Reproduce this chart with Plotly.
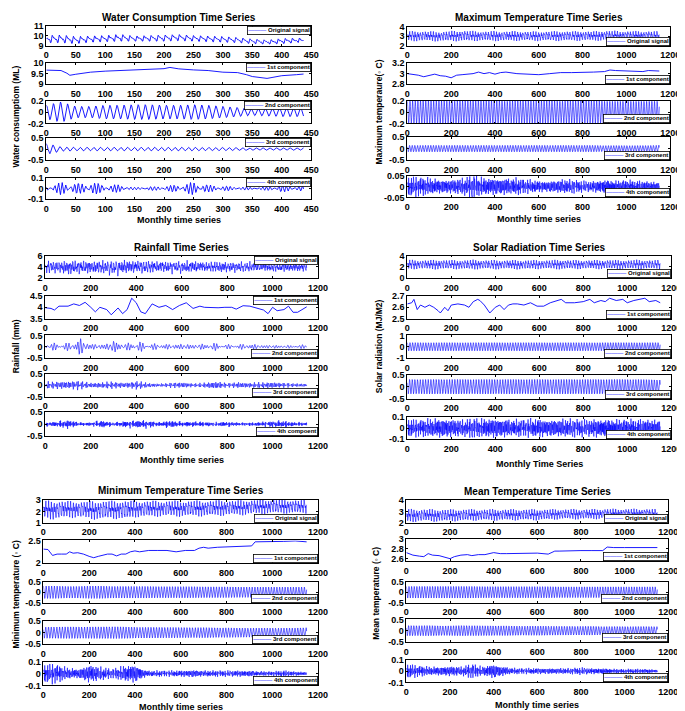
import numpy as np
import plotly.graph_objects as go

FIG_W, FIG_H = 685, 711
BLUE = "#0000ff"
FONT = "Liberation Sans, Arial, sans-serif"

# ------------------------------------------------------------------
# Values
# ------------------------------------------------------------------
# Water consumption: 438 monthly values (0..437)
water_n = 438
water_env_t = [0, 25, 50, 75, 100, 125, 150, 175, 200, 225, 250, 275, 300, 325, 350, 375, 400, 425]
water_orig_hi = [10.0, 10.05, 9.9, 9.95, 10.0, 10.12, 9.95, 10.0, 10.05, 10.1, 10.0, 9.95, 9.9, 9.8, 9.65, 9.55, 9.7, 9.75]
water_orig_lo = [9.3, 9.3, 9.2, 9.35, 9.4, 9.45, 9.45, 9.45, 9.45, 9.5, 9.45, 9.4, 9.35, 9.3, 9.2, 9.15, 9.2, 9.3]
water_trend_t = [0, 25, 35, 40, 50, 75, 100, 125, 150, 175, 200, 210, 225, 250, 275, 300, 325, 340, 350, 375, 400, 425, 437]
water_trend_v = [9.67, 9.65, 9.52, 9.42, 9.47, 9.57, 9.62, 9.65, 9.67, 9.7, 9.74, 9.8, 9.73, 9.68, 9.65, 9.57, 9.55, 9.45, 9.36, 9.27, 9.4, 9.45, 9.48]
water_c2_amp = [0.12, 0.18, 0.1, 0.1, 0.12, 0.12, 0.13, 0.13, 0.12, 0.12, 0.13, 0.12, 0.1, 0.08, 0.06, 0.07, 0.08, 0.08]
water_c3_amp = [0.25, 0.1, 0.08, 0.08, 0.08, 0.08, 0.08, 0.08, 0.08, 0.08, 0.08, 0.07, 0.07, 0.06, 0.05, 0.05, 0.05, 0.05]
water_c4_amp = [0.02, 0.05, 0.04, 0.05, 0.03, 0.03, 0.01, 0.015, 0.02, 0.03, 0.05, 0.03, 0.02, 0.015, 0.01, 0.015, 0.03, 0.02]

# Other variables: 1151 monthly values (0..1150), envelopes read every 50 months
long_n = 1151
long_env_t = [0, 50, 100, 150, 200, 250, 300, 350, 400, 450, 500, 550, 600, 650, 700, 750, 800, 850, 900, 950, 1000, 1050, 1100, 1150]

# Maximum temperature
max_orig_hi = [3.42, 3.45, 3.42, 3.4, 3.45, 3.5, 3.45, 3.42, 3.45, 3.42, 3.45, 3.4, 3.42, 3.42, 3.45, 3.42, 3.45, 3.42, 3.5, 3.48, 3.45, 3.45, 3.45, 3.42]
max_orig_lo = [2.62, 2.58, 2.6, 2.55, 2.6, 2.58, 2.6, 2.62, 2.6, 2.6, 2.62, 2.62, 2.6, 2.62, 2.6, 2.62, 2.62, 2.62, 2.65, 2.65, 2.68, 2.65, 2.65, 2.65]
max_trend_t = [0, 50, 75, 100, 125, 150, 175, 200, 225, 250, 275, 300, 325, 350, 375, 400, 425, 450, 500, 550, 600, 650, 700, 750, 800, 850, 900, 925, 950, 1000, 1050, 1075, 1100, 1150]
max_trend_v = [3.0, 2.97, 2.94, 2.96, 2.99, 2.96, 2.95, 2.92, 2.97, 2.98, 2.99, 3.0, 3.03, 3.0, 3.02, 2.99, 3.02, 3.03, 3.0, 2.99, 2.98, 3.0, 3.02, 3.02, 3.02, 3.03, 3.04, 3.07, 3.06, 3.05, 3.05, 3.04, 3.06, 3.05]
max_c2_amp = [0.19, 0.2, 0.2, 0.2, 0.19, 0.2, 0.2, 0.2, 0.2, 0.19, 0.2, 0.2, 0.2, 0.2, 0.19, 0.2, 0.2, 0.2, 0.19, 0.19, 0.19, 0.19, 0.19, 0.19]
max_c3_amp = [0.14, 0.14, 0.14, 0.14, 0.14, 0.14, 0.14, 0.14, 0.14, 0.14, 0.14, 0.14, 0.14, 0.14, 0.14, 0.14, 0.14, 0.14, 0.13, 0.13, 0.13, 0.13, 0.13, 0.15]
max_c4_amp = [0.035, 0.035, 0.03, 0.025, 0.025, 0.03, 0.04, 0.03, 0.03, 0.03, 0.03, 0.025, 0.02, 0.02, 0.025, 0.025, 0.02, 0.02, 0.025, 0.02, 0.025, 0.02, 0.02, 0.015]

# Rainfall
rain_orig_hi = [4.7, 4.8, 4.9, 4.8, 4.7, 4.8, 4.7, 5.0, 4.8, 4.7, 4.8, 4.7, 4.7, 4.8, 4.6, 4.7, 4.7, 4.6, 4.6, 4.6, 4.5, 4.6, 4.5, 4.5]
rain_orig_lo = [3.2, 3.3, 3.0, 3.2, 3.1, 3.2, 3.0, 3.2, 3.3, 3.1, 3.4, 3.3, 3.3, 3.3, 3.4, 3.3, 3.3, 3.4, 3.4, 3.4, 3.3, 3.4, 3.4, 3.4]
rain_trend_t = [0, 25, 40, 60, 100, 125, 150, 175, 200, 220, 240, 270, 290, 320, 340, 360, 380, 400, 420, 440, 470, 500, 530, 560, 590, 620, 650, 680, 700, 730, 760, 790, 820, 840, 870, 900, 930, 960, 980, 1000, 1020, 1050, 1070, 1090, 1110, 1130, 1150]
rain_trend_v = [3.98, 3.95, 3.88, 4.05, 4.05, 4.15, 4.08, 4.22, 4.0, 3.8, 4.0, 3.9, 3.67, 3.97, 3.72, 3.9, 4.4, 4.2, 3.8, 3.72, 4.15, 4.0, 4.08, 3.9, 4.08, 4.2, 3.95, 4.05, 4.0, 3.98, 3.98, 4.0, 4.0, 3.92, 4.07, 4.05, 3.95, 3.88, 3.72, 4.0, 3.85, 3.9, 4.05, 3.78, 3.78, 3.9, 4.02]
rain_c2_amp = [0.1, 0.12, 0.12, 0.27, 0.1, 0.08, 0.2, 0.1, 0.18, 0.1, 0.1, 0.08, 0.1, 0.08, 0.1, 0.12, 0.07, 0.08, 0.1, 0.06, 0.06, 0.05, 0.05, 0.07]
rain_c3_amp = [0.12, 0.12, 0.13, 0.15, 0.08, 0.1, 0.12, 0.08, 0.14, 0.08, 0.05, 0.08, 0.1, 0.06, 0.08, 0.13, 0.07, 0.1, 0.08, 0.1, 0.1, 0.08, 0.06, 0.05]
rain_c4_amp = [0.06, 0.08, 0.14, 0.05, 0.06, 0.12, 0.05, 0.1, 0.12, 0.12, 0.06, 0.12, 0.07, 0.08, 0.07, 0.06, 0.08, 0.05, 0.05, 0.07, 0.1, 0.1, 0.06, 0.05]

# Solar radiation
solar_orig_hi = [3.1, 3.05, 3.05, 3.1, 3.05, 3.05, 3.1, 3.05, 3.05, 3.05, 3.05, 3.05, 3.05, 3.05, 3.1, 3.05, 3.05, 3.05, 3.1, 3.05, 3.05, 3.1, 3.05, 3.05]
solar_orig_lo = [1.75, 1.8, 1.75, 1.75, 1.8, 1.75, 1.75, 1.8, 1.75, 1.8, 1.75, 1.75, 1.8, 1.8, 1.75, 1.8, 1.8, 1.8, 1.8, 1.8, 1.8, 1.8, 1.8, 1.8]
solar_trend_t = [0, 20, 30, 45, 60, 80, 100, 120, 140, 150, 170, 185, 200, 230, 260, 280, 300, 320, 330, 350, 375, 390, 400, 420, 440, 460, 480, 500, 530, 560, 590, 620, 650, 700, 720, 760, 800, 830, 850, 880, 900, 920, 950, 980, 1000, 1030, 1060, 1080, 1100, 1130, 1150]
solar_trend_v = [2.63, 2.64, 2.67, 2.58, 2.62, 2.6, 2.62, 2.6, 2.57, 2.55, 2.6, 2.57, 2.62, 2.63, 2.62, 2.6, 2.65, 2.67, 2.66, 2.62, 2.55, 2.58, 2.6, 2.62, 2.58, 2.62, 2.63, 2.63, 2.62, 2.64, 2.61, 2.61, 2.64, 2.67, 2.64, 2.64, 2.65, 2.67, 2.64, 2.66, 2.65, 2.68, 2.66, 2.67, 2.64, 2.66, 2.67, 2.68, 2.65, 2.66, 2.64]
solar_c2_amp = [0.36, 0.36, 0.35, 0.36, 0.36, 0.35, 0.36, 0.36, 0.36, 0.35, 0.36, 0.36, 0.36, 0.35, 0.36, 0.36, 0.36, 0.35, 0.36, 0.36, 0.36, 0.35, 0.36, 0.36]
solar_c3_amp = [0.3, 0.3, 0.3, 0.3, 0.3, 0.3, 0.3, 0.3, 0.3, 0.3, 0.3, 0.3, 0.3, 0.3, 0.3, 0.3, 0.3, 0.3, 0.3, 0.3, 0.3, 0.3, 0.29, 0.28]
solar_c4_amp = [0.065, 0.06, 0.065, 0.07, 0.065, 0.06, 0.07, 0.065, 0.07, 0.065, 0.06, 0.065, 0.065, 0.06, 0.065, 0.065, 0.06, 0.065, 0.065, 0.06, 0.065, 0.06, 0.065, 0.06]

# Minimum temperature
min_orig_hi = [2.8, 2.78, 2.78, 2.75, 2.75, 2.78, 2.78, 2.8, 2.8, 2.8, 2.8, 2.82, 2.8, 2.82, 2.82, 2.85, 2.85, 2.85, 2.9, 2.92, 2.95, 2.92, 2.9, 2.88]
min_orig_lo = [1.6, 1.45, 1.6, 1.6, 1.5, 1.45, 1.55, 1.45, 1.65, 1.65, 1.7, 1.7, 1.7, 1.72, 1.72, 1.75, 1.78, 1.8, 1.85, 1.9, 1.95, 1.95, 1.95, 1.95]
min_trend_t = [0, 20, 40, 60, 80, 100, 115, 130, 150, 175, 200, 220, 240, 260, 280, 300, 320, 340, 360, 380, 400, 420, 440, 460, 500, 540, 580, 620, 660, 680, 700, 720, 760, 800, 840, 880, 910, 925, 950, 1000, 1050, 1100, 1150]
min_trend_v = [2.31, 2.3, 2.17, 2.2, 2.2, 2.2, 2.25, 2.22, 2.23, 2.2, 2.15, 2.12, 2.15, 2.18, 2.2, 2.2, 2.16, 2.2, 2.2, 2.25, 2.27, 2.25, 2.27, 2.28, 2.28, 2.28, 2.25, 2.28, 2.28, 2.33, 2.35, 2.33, 2.35, 2.36, 2.37, 2.38, 2.38, 2.47, 2.47, 2.47, 2.48, 2.49, 2.47]
min_c2_amp = [0.3, 0.3, 0.28, 0.28, 0.3, 0.3, 0.28, 0.28, 0.28, 0.28, 0.27, 0.27, 0.27, 0.27, 0.26, 0.26, 0.26, 0.25, 0.25, 0.25, 0.25, 0.25, 0.25, 0.25]
min_c3_amp = [0.24, 0.25, 0.25, 0.25, 0.25, 0.25, 0.26, 0.25, 0.24, 0.23, 0.23, 0.23, 0.22, 0.22, 0.22, 0.21, 0.21, 0.2, 0.2, 0.2, 0.2, 0.2, 0.2, 0.22]
min_c4_amp = [0.06, 0.065, 0.04, 0.03, 0.06, 0.045, 0.03, 0.05, 0.06, 0.02, 0.02, 0.02, 0.02, 0.025, 0.02, 0.02, 0.02, 0.02, 0.02, 0.015, 0.015, 0.02, 0.015, 0.01]

# Mean temperature
mean_orig_hi = [3.1, 3.1, 3.1, 3.08, 3.08, 3.1, 3.1, 3.1, 3.1, 3.1, 3.1, 3.1, 3.1, 3.1, 3.12, 3.12, 3.12, 3.12, 3.15, 3.15, 3.15, 3.15, 3.15, 3.12]
mean_orig_lo = [2.2, 2.2, 2.25, 2.2, 2.25, 2.25, 2.3, 2.3, 2.3, 2.3, 2.32, 2.32, 2.32, 2.35, 2.4, 2.4, 2.4, 2.4, 2.45, 2.48, 2.48, 2.48, 2.48, 2.48]
mean_trend_t = [0, 30, 60, 80, 100, 120, 150, 180, 200, 220, 250, 280, 300, 330, 360, 400, 430, 460, 500, 550, 600, 650, 680, 700, 750, 800, 850, 900, 920, 950, 1000, 1050, 1100, 1150]
mean_trend_v = [2.72, 2.67, 2.65, 2.64, 2.7, 2.67, 2.66, 2.63, 2.6, 2.64, 2.67, 2.68, 2.66, 2.68, 2.68, 2.72, 2.7, 2.7, 2.7, 2.7, 2.71, 2.69, 2.75, 2.75, 2.76, 2.76, 2.76, 2.76, 2.83, 2.82, 2.82, 2.82, 2.83, 2.82]
mean_c2_amp = [0.28, 0.28, 0.28, 0.28, 0.28, 0.28, 0.28, 0.27, 0.27, 0.27, 0.27, 0.27, 0.27, 0.27, 0.26, 0.26, 0.26, 0.26, 0.26, 0.26, 0.26, 0.26, 0.26, 0.26]
mean_c3_amp = [0.22, 0.22, 0.22, 0.21, 0.21, 0.22, 0.22, 0.21, 0.21, 0.21, 0.2, 0.2, 0.2, 0.2, 0.19, 0.19, 0.19, 0.19, 0.18, 0.18, 0.18, 0.18, 0.18, 0.18]
mean_c4_amp = [0.05, 0.04, 0.03, 0.03, 0.035, 0.03, 0.05, 0.03, 0.05, 0.03, 0.02, 0.02, 0.02, 0.02, 0.02, 0.02, 0.025, 0.02, 0.02, 0.015, 0.015, 0.015, 0.015, 0.01]

legend_labels = ["Original signal", "1st component", "2nd component", "3rd component", "4th component"]
rain_legend_labels = ["Original signal", "1st component", "2nd component", "3rd component", "4th compoent"]

# ------------------------------------------------------------------
# Helpers: monthly oscillation shaped by the envelopes read above
# ------------------------------------------------------------------
def wave(t, periods, phase=0.0):
    s = sum(np.cos(2 * np.pi * t / p + phase + 1.7 * k) * (1.0 / (1 + 0.3 * k))
            for k, p in enumerate(periods))
    return s / np.percentile(np.abs(s), 88)


def band(t, env_t, hi, lo, periods):
    h = np.interp(t, env_t, hi)
    l = np.interp(t, env_t, lo)
    return (h + l) / 2 + (h - l) / 2 * wave(t, periods)


def comp(t, env_t, amp, periods, phase=0.0):
    return np.interp(t, env_t, amp) * wave(t, periods, phase)


tw = np.arange(water_n)
tl = np.arange(long_n)

series = {
    "water": [
        (tw, band(tw, water_env_t, water_orig_hi, water_orig_lo, [12, 6, 4])),
        (water_trend_t, water_trend_v),
        (tw, comp(tw, water_env_t, water_c2_amp, [12])),
        (tw, comp(tw, water_env_t, water_c3_amp, [11.5])),
        (tw, comp(tw, water_env_t, water_c4_amp, [6.8, 5.6])),
    ],
    "max": [
        (tl, band(tl, long_env_t, max_orig_hi, max_orig_lo, [12, 6, 3.1])),
        (max_trend_t, max_trend_v),
        (tl, comp(tl, long_env_t, max_c2_amp, [12])),
        (tl, comp(tl, long_env_t, max_c3_amp, [12.1], 1.0)),
        (tl, comp(tl, long_env_t, max_c4_amp, [3.1, 2.4, 4.3, 5.7])),
    ],
    "rain": [
        (tl, band(tl, long_env_t, rain_orig_hi, rain_orig_lo, [12, 5.3, 3.1, 2.3, 7.7])),
        (rain_trend_t, rain_trend_v),
        (tl, comp(tl, long_env_t, rain_c2_amp, [13, 10.5, 16.3])),
        (tl, comp(tl, long_env_t, rain_c3_amp, [6.3, 4.7, 8.9])),
        (tl, comp(tl, long_env_t, rain_c4_amp, [3.2, 2.5, 4.1, 2.9])),
    ],
    "solar": [
        (tl, band(tl, long_env_t, solar_orig_hi, solar_orig_lo, [12, 6, 3.1])),
        (solar_trend_t, solar_trend_v),
        (tl, comp(tl, long_env_t, solar_c2_amp, [12])),
        (tl, comp(tl, long_env_t, solar_c3_amp, [12.1], 1.0)),
        (tl, comp(tl, long_env_t, solar_c4_amp, [3.1, 2.4, 4.3, 5.7])),
    ],
    "min": [
        (tl, band(tl, long_env_t, min_orig_hi, min_orig_lo, [12, 6, 3.1])),
        (min_trend_t, min_trend_v),
        (tl, comp(tl, long_env_t, min_c2_amp, [12])),
        (tl, comp(tl, long_env_t, min_c3_amp, [12.1], 1.0)),
        (tl, comp(tl, long_env_t, min_c4_amp, [3.1, 2.4, 4.3, 5.7])),
    ],
    "mean": [
        (tl, band(tl, long_env_t, mean_orig_hi, mean_orig_lo, [12, 6, 3.1])),
        (mean_trend_t, mean_trend_v),
        (tl, comp(tl, long_env_t, mean_c2_amp, [12])),
        (tl, comp(tl, long_env_t, mean_c3_amp, [12.1], 1.0)),
        (tl, comp(tl, long_env_t, mean_c4_amp, [3.1, 2.4, 4.3, 5.7])),
    ],
}

# ------------------------------------------------------------------
# Layout (pixel boxes)
# ------------------------------------------------------------------
sym = lambda a: ((-a, a), [-a, 0, a])
panels = [
    dict(key="water", title="Water Consumption Time Series", ty=5,
         ylab="Water consumptiom (ML)", ylx=5, yly=105,
         xlab="Monthly time series", xly=210,
         x0=36, x1=306, rows=[(13, 33), (51, 72), (89, 112), (127, 149), (167, 189)],
         xr=(0, 450), xt=list(range(0, 451, 50)),
         yax=[((9, 11), [9, 10, 11]), ((9, 10), [9, 9.5, 10]), sym(0.2), sym(0.5), sym(0.1)],
         leg=["top"] * 5, labels=legend_labels),
    dict(key="max", title="Maximum Temperature Time Series", ty=5,
         ylab="Maximum temperaure(\u25e6 C)", ylx=375, yly=100,
         xlab="Monthly time series", xly=209,
         x0=404, x1=672, rows=[(14, 33), (51, 72), (89, 112), (126, 149), (165, 187)],
         xr=(0, 1200), xt=list(range(0, 1201, 200)),
         yax=[((2, 4), [2, 3, 4]), ((2.8, 3.2), [2.8, 3, 3.2]), sym(0.2), sym(0.5), sym(0.05)],
         leg=["bottom"] * 5, labels=legend_labels),
    dict(key="rain", title="Rainfall Time Series", ty=238,
         ylab="Rainfall (mm)", ylx=5, yly=338,
         xlab="Monthly time series", xly=453,
         x0=35, x1=313, rows=[(246, 269), (287, 310), (327, 350), (366, 389), (405, 429)],
         xr=(0, 1200), xt=list(range(0, 1201, 200)),
         yax=[((2, 6), [2, 4, 6]), ((3.5, 4.5), [3.5, 4, 4.5]), sym(0.5), sym(0.5), sym(0.5)],
         leg=["top", "top", "bottom", "bottom", "bottom"], labels=rain_legend_labels),
    dict(key="solar", title="Solar Radiation Time Series", ty=238,
         ylab="Solar radiation (MJ/M2)", ylx=375, yly=338,
         xlab="Monthly Time Series", xly=457,
         x0=404, x1=673, rows=[(246, 269), (287, 310), (327, 350), (367, 391), (410, 432)],
         xr=(0, 1200), xt=list(range(0, 1201, 200)),
         yax=[((0, 4), [0, 2, 4]), ((2.5, 2.7), [2.5, 2.6, 2.7]), sym(1), sym(0.5), sym(0.1)],
         leg=["bottom"] * 5, labels=legend_labels),
    dict(key="min", title="Minimum Temperature Time Series", ty=484,
         ylab="Minimum temperature (\u25e6 C)", ylx=5, yly=590,
         xlab="Monthly time series", xly=704,
         x0=33, x1=313, rows=[(494, 517), (535, 558), (577, 598), (617, 640), (658, 682)],
         xr=(0, 1200), xt=list(range(0, 1201, 200)),
         yax=[((1, 3), [1, 2, 3]), ((2, 2.5), [2, 2.5]), sym(0.5), sym(0.5), sym(0.1)],
         leg=["bottom"] * 5, labels=legend_labels),
    dict(key="mean", title="Mean Temperature Time Series", ty=485,
         ylab="Mean temperature (\u25e6 C)", ylx=372, yly=588,
         xlab="Monthly time series", xly=702,
         x0=403, x1=670, rows=[(494, 517), (533, 556), (577, 598), (615, 638), (656, 679)],
         xr=(0, 1200), xt=list(range(0, 1201, 200)),
         yax=[((2, 4), [2, 3, 4]), ((2.55, 3.0), [2.6, 2.8, 3]), sym(0.5), sym(0.5), sym(0.1)],
         leg=["bottom"] * 5, labels=legend_labels),
]

px_x = lambda p: p / FIG_W
px_y = lambda p: 1 - p / FIG_H
fmt = lambda v: ("%g" % v)

fig = go.Figure()
layout = {}
annotations = []
tickfont = dict(family=FONT, size=9, color="black", weight="bold")

n = 0
for P in panels:
    for r, (ytop, ybot) in enumerate(P["rows"]):
        n += 1
        sx = "" if n == 1 else str(n)
        xs, ys = series[P["key"]][r]
        fig.add_trace(go.Scatter(
            x=list(xs), y=list(ys), mode="lines",
            line=dict(color=BLUE, width=0.9 if (P["key"] == "water" or r == 1) else 0.6),
            xaxis="x" + sx, yaxis="y" + sx, showlegend=False, hoverinfo="skip"))
        (ylo, yhi), yt = P["yax"][r]
        common = dict(showline=True, linecolor="black", linewidth=0.8, mirror="ticks",
                      ticks="inside", ticklen=2, tickwidth=0.8, tickcolor="black",
                      showgrid=False, zeroline=False, tickfont=tickfont)
        layout["xaxis" + sx] = dict(domain=[px_x(P["x0"]), px_x(P["x1"])], range=list(P["xr"]),
                                    tickvals=P["xt"], ticktext=[fmt(v) for v in P["xt"]],
                                    anchor="y" + sx, ticklabelstandoff=1, **common)
        layout["yaxis" + sx] = dict(domain=[px_y(ybot), px_y(ytop)], range=[ylo, yhi],
                                    tickvals=yt, ticktext=[fmt(v) for v in yt],
                                    anchor="x" + sx, **common)
        top = P["leg"][r] == "top"
        annotations.append(dict(
            xref="x%s domain" % sx, yref="y%s domain" % sx,
            x=1, y=1 if top else 0, xanchor="right", yanchor="top" if top else "bottom",
            text='<span style="color:%s">\u2014\u2014\u2014</span> <b>%s</b>' % (BLUE, P["labels"][r]),
            showarrow=False, font=dict(family=FONT, size=6, color="black"),
            bgcolor="white", bordercolor="black", borderwidth=0.8, borderpad=0.5, align="left"))
    cx = px_x((P["x0"] + P["x1"]) / 2)
    annotations.append(dict(xref="paper", yref="paper", x=cx, y=px_y(P["ty"]),
                            text="<b>%s</b>" % P["title"], showarrow=False,
                            xanchor="center", yanchor="middle",
                            font=dict(family=FONT, size=10, color="black")))
    annotations.append(dict(xref="paper", yref="paper", x=cx, y=px_y(P["xly"]),
                            text="<b>%s</b>" % P["xlab"], showarrow=False,
                            xanchor="center", yanchor="middle",
                            font=dict(family=FONT, size=9, color="black")))
    annotations.append(dict(xref="paper", yref="paper", x=px_x(P["ylx"]), y=px_y(P["yly"]),
                            text="<b>%s</b>" % P["ylab"], showarrow=False, textangle=-90,
                            xanchor="center", yanchor="middle",
                            font=dict(family=FONT, size=8.5, color="black")))

fig.update_layout(**layout)
fig.update_layout(width=FIG_W, height=FIG_H, autosize=False,
                  margin=dict(l=0, r=0, t=0, b=0),
                  paper_bgcolor="white", plot_bgcolor="white",
                  showlegend=False, annotations=annotations,
                  font=dict(family=FONT))
fig.write_html("out.html")
